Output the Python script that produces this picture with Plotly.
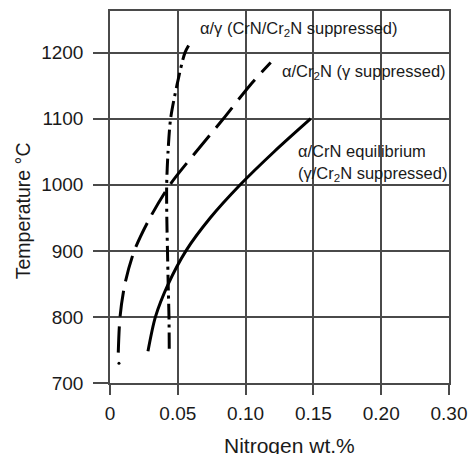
import plotly.graph_objects as go

# --- data (x = nitrogen wt.%, y = temperature °C) ---
alpha_gamma_N = [0.0437, 0.0435, 0.0429, 0.0424, 0.0419, 0.0418, 0.0428, 0.0447, 0.0493, 0.0553, 0.0595]
alpha_gamma_T = [752, 800, 850, 900, 950, 1000, 1050, 1100, 1150, 1200, 1216]

alpha_cr2n_N = [0.0061, 0.0074, 0.0110, 0.0179, 0.0295, 0.0442, 0.0635, 0.0836, 0.1030, 0.1185]
alpha_cr2n_T = [746, 800, 850, 900, 950, 1000, 1050, 1100, 1150, 1185]

alpha_crn_N = [0.028, 0.0335, 0.0430, 0.0560, 0.0740, 0.0960, 0.1210, 0.148]
alpha_crn_T = [748, 800, 850, 900, 950, 1000, 1050, 1100]

stray_dot_N = [0.0066]
stray_dot_T = [730]

x_tickvals = [0, 0.05, 0.10, 0.15, 0.20, 0.25]
x_ticktext = ["0", "0.05", "0.10", "0.15", "0.20", "0.30"]
y_tickvals = [700, 800, 900, 1000, 1100, 1200]

labels = ["α/γ (CrN/Cr<sub>2</sub>N suppressed)", "α/Cr<sub>2</sub>N (γ suppressed)",
          "α/CrN equilibrium", "(γ/Cr<sub>2</sub>N suppressed)"]
label_N = [0.0649, 0.1254, 0.1372, 0.1372]
label_T = [1236, 1170, 1051, 1017]

FONT = "Liberation Sans, Arial, sans-serif"
TXT = "#1a1a1a"
GRID = "#4a4a4a"

fig = go.Figure()
fig.add_trace(go.Scatter(x=alpha_gamma_N, y=alpha_gamma_T, mode="lines",
                         line=dict(color="black", width=3, dash="16px,5px,3px,5px",
                                   shape="spline", smoothing=0.8)))
fig.add_trace(go.Scatter(x=alpha_cr2n_N, y=alpha_cr2n_T, mode="lines",
                         line=dict(color="black", width=3, dash="26px,10px",
                                   shape="spline", smoothing=0.8)))
fig.add_trace(go.Scatter(x=alpha_crn_N, y=alpha_crn_T, mode="lines",
                         line=dict(color="black", width=3, shape="spline", smoothing=0.8)))
fig.add_trace(go.Scatter(x=stray_dot_N, y=stray_dot_T, mode="markers",
                         marker=dict(color="black", size=3)))

for t, xn, yt in zip(labels, label_N, label_T):
    fig.add_annotation(x=xn, y=yt, xref="x", yref="y", text=t, showarrow=False,
                       xanchor="left", yanchor="middle",
                       font=dict(family=FONT, size=16.5, color=TXT))

fig.add_annotation(x=-0.258, y=0.463, xref="paper", yref="paper", text="Temperature °C",
                   textangle=-90, showarrow=False, xanchor="center", yanchor="middle",
                   font=dict(family=FONT, size=19.5, color=TXT))
fig.add_annotation(x=0.53, y=-0.167, xref="paper", yref="paper", text="Nitrogen wt.%",
                   showarrow=False, xanchor="center", yanchor="middle",
                   font=dict(family=FONT, size=21, color=TXT))

axis_common = dict(showgrid=True, gridcolor=GRID, gridwidth=1.5, showline=True,
                   linecolor=GRID, linewidth=1.5, mirror=True, zeroline=False,
                   ticks="outside", tickcolor=GRID, tickwidth=1.5,
                   tickfont=dict(family=FONT, size=19, color=TXT))

fig.update_xaxes(range=[0, 0.25], tickvals=x_tickvals, ticktext=x_ticktext,
                 ticklen=10, ticklabelstandoff=2, **axis_common)
fig.update_yaxes(range=[700, 1263], tickvals=y_tickvals, ticklen=15,
                 ticklabelstandoff=6, **axis_common)

fig.update_layout(width=468, height=454, showlegend=False,
                  margin=dict(l=110, r=19, t=11, b=71, autoexpand=False),
                  plot_bgcolor="white", paper_bgcolor="white")

fig.write_html("out.html")
